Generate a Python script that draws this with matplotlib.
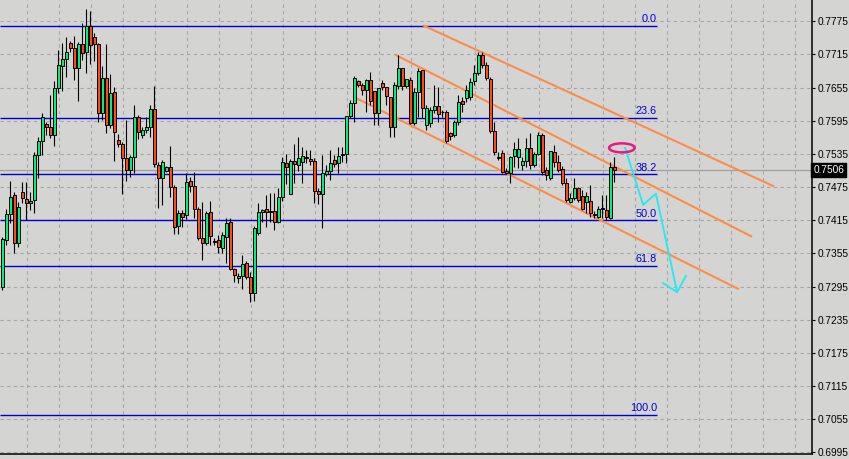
import matplotlib
matplotlib.use("Agg")
import matplotlib.pyplot as plt
from matplotlib.patches import Ellipse
import numpy as np

plt.rcParams['font.family'] = ['Liberation Sans', 'DejaVu Sans']

# candle data, one per bar
opens = [
    .7294, .7379, .7426, .7461, .7374, .7466, .7453, .7446, .7452, .7533,
    .7558, .7589, .7584, .7569, .7654, .7694, .7707, .7736, .7727, .7691,
    .7734, .7720, .7767, .7747, .7734, .7609, .7672, .7587, .7647, .7560,
    .7553, .7528, .7506, .7529, .7602, .7569, .7578, .7584, .7616, .7515,
    .7491, .7504, .7511, .7475, .7405, .7428, .7424, .7486, .7477, .7435,
    .7383, .7374, .7430, .7377, .7379, .7365, .7385, .7412, .7327, .7310,
    .7314, .7338, .7312, .7283, .7392, .7430, .7435, .7430, .7432, .7412,
    .7457, .7519, .7462, .7522, .7515, .7520, .7529, .7526, .7522, .7468,
    .7462, .7499, .7504, .7524, .7519, .7533, .7535, .7604, .7627, .7667,
    .7660, .7651, .7669, .7649, .7609, .7663, .7656, .7638, .7584, .7658,
    .7691, .7658, .7669, .7591, .7647, .7687, .7587, .7591, .7615, .7622,
    .7611, .7611, .7573, .7569, .7593, .7631, .7636, .7638, .7667, .7681,
    .7714, .7696, .7671, .7577, .7529, .7537, .7504, .7501, .7531, .7529,
    .7515, .7522, .7546, .7515, .7535, .7569, .7506, .7491, .7539, .7520,
    .7508, .7482, .7448, .7455, .7473, .7459, .7448, .7450, .7426, .7421,
    .7435, .7434, .7419, .7511]
highs = [
    .7385, .7435, .7486, .7466, .7448, .7484, .7484, .7466, .7539, .7566,
    .7609, .7593, .7642, .7667, .7723, .7736, .7747, .7739, .7748, .7738,
    .7772, .7797, .7794, .7754, .7736, .7694, .7734, .7680, .7656, .7571,
    .7557, .7596, .7533, .7624, .7606, .7584, .7602, .7624, .7658, .7520,
    .7524, .7513, .7549, .7479, .7434, .7434, .7501, .7493, .7502, .7439,
    .7448, .7432, .7450, .7383, .7388, .7394, .7419, .7419, .7329, .7320,
    .7352, .7341, .7321, .7405, .7446, .7435, .7461, .7464, .7464, .7473,
    .7529, .7535, .7526, .7553, .7566, .7548, .7542, .7542, .7528, .7473,
    .7533, .7515, .7542, .7533, .7548, .7548, .7604, .7633, .7676, .7669,
    .7663, .7671, .7683, .7649, .7654, .7669, .7656, .7638, .7665, .7714,
    .7691, .7671, .7674, .7654, .7691, .7687, .7624, .7620, .7660, .7656,
    .7615, .7615, .7575, .7596, .7642, .7638, .7660, .7672, .7696, .7720,
    .7720, .7701, .7674, .7593, .7539, .7542, .7510, .7531, .7557, .7564,
    .7529, .7564, .7573, .7539, .7575, .7573, .7511, .7540, .7551, .7533,
    .7513, .7491, .7464, .7491, .7475, .7470, .7466, .7479, .7432, .7441,
    .7461, .7461, .7520, .7529]
lows = [
    .7289, .7370, .7410, .7356, .7367, .7446, .7415, .7434, .7428, .7491,
    .7533, .7569, .7564, .7549, .7645, .7649, .7674, .7720, .7669, .7631,
    .7705, .7681, .7698, .7703, .7593, .7596, .7573, .7582, .7522, .7548,
    .7462, .7486, .7493, .7501, .7562, .7564, .7573, .7566, .7511, .7437,
    .7443, .7502, .7457, .7390, .7390, .7403, .7417, .7466, .7419, .7379,
    .7343, .7370, .7370, .7370, .7356, .7356, .7338, .7325, .7303, .7301,
    .7291, .7309, .7267, .7269, .7388, .7412, .7403, .7412, .7397, .7410,
    .7450, .7481, .7462, .7482, .7504, .7482, .7519, .7515, .7446, .7444,
    .7401, .7495, .7488, .7511, .7501, .7520, .7519, .7600, .7593, .7656,
    .7642, .7611, .7624, .7587, .7587, .7651, .7624, .7566, .7566, .7652,
    .7651, .7654, .7589, .7587, .7602, .7600, .7578, .7584, .7609, .7593,
    .7602, .7555, .7560, .7566, .7587, .7611, .7629, .7633, .7660, .7678,
    .7691, .7669, .7573, .7533, .7524, .7501, .7499, .7482, .7511, .7510,
    .7506, .7511, .7508, .7511, .7533, .7497, .7488, .7488, .7511, .7502,
    .7479, .7448, .7446, .7452, .7448, .7434, .7428, .7421, .7419, .7419,
    .7419, .7415, .7417, .7484]
closes = [
    .7381, .7426, .7457, .7374, .7439, .7455, .7446, .7450, .7533, .7558,
    .7602, .7584, .7569, .7654, .7696, .7707, .7720, .7727, .7691, .7734,
    .7718, .7767, .7732, .7734, .7609, .7672, .7587, .7645, .7575, .7553,
    .7528, .7506, .7529, .7602, .7575, .7578, .7584, .7616, .7517, .7491,
    .7520, .7511, .7475, .7403, .7428, .7421, .7484, .7477, .7435, .7383,
    .7374, .7428, .7386, .7376, .7367, .7388, .7410, .7327, .7316, .7314,
    .7336, .7312, .7283, .7401, .7430, .7434, .7430, .7432, .7412, .7457,
    .7520, .7511, .7522, .7517, .7528, .7531, .7528, .7522, .7468, .7462,
    .7501, .7504, .7519, .7517, .7531, .7535, .7604, .7627, .7672, .7660,
    .7651, .7669, .7631, .7609, .7654, .7656, .7640, .7584, .7660, .7691,
    .7658, .7671, .7591, .7647, .7685, .7618, .7618, .7615, .7622, .7607,
    .7610, .7558, .7567, .7593, .7629, .7625, .7651, .7665, .7681, .7714,
    .7696, .7672, .7577, .7539, .7528, .7502, .7501, .7529, .7544, .7544,
    .7522, .7546, .7515, .7535, .7569, .7502, .7497, .7540, .7520, .7506,
    .7482, .7452, .7455, .7473, .7452, .7435, .7459, .7428, .7424, .7435,
    .7437, .7421, .7511, .7506]

price_ticks = [0.6995, 0.7055, 0.7115, 0.7175, 0.7235, 0.7295, 0.7355,
               0.7415, 0.7475, 0.7535, 0.7595, 0.7655, 0.7715, 0.7775]
last_price = 0.7506

# fibonacci retracement
fib_high = 0.7767
fib_low = 0.7063
fib_levels = [0.0, 23.6, 38.2, 50.0, 61.8, 100.0]
fib_end = 163.7

# trend channel lines: (bar0, price0, bar1, price1)
channel = [
    (105.4, 0.7767, 192.7, 0.7477),
    (98.4, 0.7714, 187.2, 0.7386),
    (87.9, 0.7638, 183.9, 0.7291),
]

# hand drawn forecast arrow
arrow_x = [155.7, 160.2, 163.4, 168.7]
arrow_y = [0.7546, 0.7443, 0.7463, 0.7285]
barb_x = [165.2, 168.7, 170.9]
barb_y = [0.7301, 0.7285, 0.7314]
mark_center = (154.9, 0.7546)

BG = '#d4d5d3'
GREEN = '#00f07c'
RED = '#ff4a14'
ORANGE = '#ff8c46'
BLUE = '#0000cc'

fig = plt.figure(figsize=(8.49, 4.59), dpi=100, facecolor=BG)
ax = fig.add_axes([0, 5 / 459, 811.7 / 849, 454 / 459])
ax.set_facecolor(BG)
ax.set_xlim(-0.575, 202.35)
ax.set_ylim(0.69919, 0.78136)

ax.set_yticks(price_ticks)
ax.set_yticklabels(['%.4f' % t for t in price_ticks])
ax.yaxis.tick_right()
ax.tick_params(axis='y', direction='out', length=2.5, width=0.8, pad=1.5,
               labelsize=7.3, colors='black')
ax.set_xticks(np.arange(6.1, 202, 8))
ax.set_xticklabels([])
ax.tick_params(axis='x', length=0)
ax.grid(True, color='#a6a6a6', linestyle=(0, (3, 3)), linewidth=0.8, zorder=0)
ax.set_axisbelow(True)
for s in ['left', 'top']:
    ax.spines[s].set_visible(False)
for s in ['right', 'bottom']:
    ax.spines[s].set_color('black')
    ax.spines[s].set_linewidth(1.1)

# current price line
ax.axhline(last_price, color='#a0a0a0', linewidth=0.9, zorder=1)
ax.text(1.002, last_price, '%.4f' % last_price, transform=ax.get_yaxis_transform(),
        ha='left', va='center', color='white', fontsize=7.3, clip_on=False,
        bbox=dict(boxstyle='square,pad=0.18', fc='black', ec='black'))

# fibo levels
for lvl in fib_levels:
    p = fib_high - lvl / 100 * (fib_high - fib_low)
    ax.hlines(p, -0.575, fib_end, color=BLUE, linewidth=1.0, zorder=2)
    ax.annotate('%.1f' % lvl, (fib_end, p), xytext=(0, 1.2), textcoords='offset points',
                ha='right', va='bottom', color=BLUE, fontsize=7.8)

for x0, p0, x1, p1 in channel:
    ax.plot([x0, x1], [p0, p1], color=ORANGE, linewidth=1.5, zorder=2)

# candles
idx = np.arange(len(opens))
o = np.array(opens)
h = np.array(highs)
l = np.array(lows)
c = np.array(closes)
up = c >= o
ax.vlines(idx, l, h, color='black', linewidth=0.8, zorder=3)
ax.bar(idx[up], (c - o)[up], bottom=o[up], width=0.72, color=GREEN,
       edgecolor='black', linewidth=0.7, zorder=4)
ax.bar(idx[~up], (c - o)[~up], bottom=o[~up], width=0.72, color=RED,
       edgecolor='black', linewidth=0.7, zorder=4)

ax.plot(arrow_x, arrow_y, color='#2ae8f2', linewidth=1.4, zorder=5)
ax.plot(barb_x, barb_y, color='#2ae8f2', linewidth=1.4, zorder=5)
ax.add_patch(Ellipse(mark_center, width=6.4, height=0.00163, fill=False,
                     edgecolor='#e8197f', linewidth=1.8, zorder=5))

fig.savefig('out.png', dpi=100, facecolor=BG)
